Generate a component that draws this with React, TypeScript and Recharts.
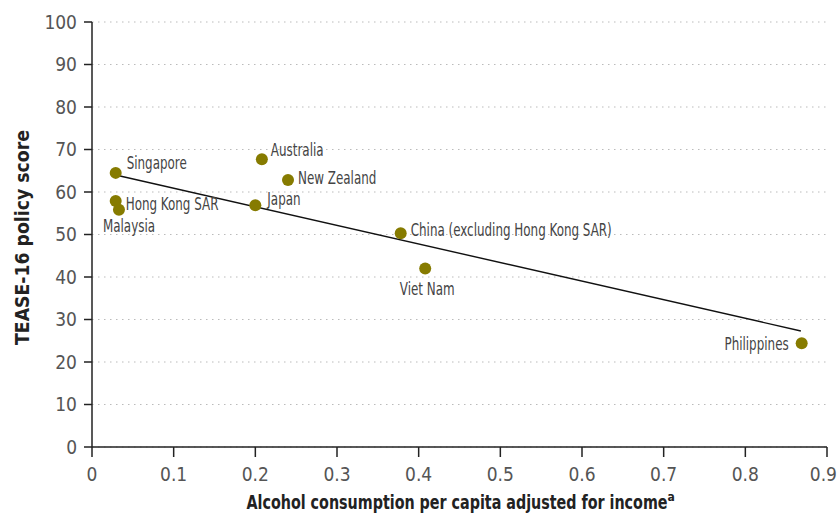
import { ScatterChart, Scatter, XAxis, YAxis, CartesianGrid } from 'recharts';

const countries = [
  'Singapore',
  'Hong Kong SAR',
  'Malaysia',
  'Japan',
  'Australia',
  'New Zealand',
  'China (excluding Hong Kong SAR)',
  'Viet Nam',
  'Philippines',
];
const consumption = [0.029, 0.029, 0.033, 0.2, 0.208, 0.24, 0.378, 0.408, 0.869];
const policyScore = [64.5, 57.9, 55.8, 56.9, 67.7, 62.8, 50.3, 42.0, 24.4];

const trendX = [0.029, 0.868];
const trendY = [64.0, 27.3];

const xTicks = [0, 0.1, 0.2, 0.3, 0.4, 0.5, 0.6, 0.7, 0.8, 0.9];
const yTicks = [0, 10, 20, 30, 40, 50, 60, 70, 80, 90, 100];

const points = countries.map((name, i) => ({ name, x: consumption[i], y: policyScore[i] }));
const trend = trendX.map((x, i) => ({ x, y: trendY[i] }));

// where each country's name sits relative to its dot
const labelPos: Record<string, { dx: number; dy: number; anchor: string }> = {
  'Singapore': { dx: 11, dy: -9, anchor: 'start' },
  'Hong Kong SAR': { dx: 10, dy: 3, anchor: 'start' },
  'Malaysia': { dx: -16, dy: 17, anchor: 'start' },
  'Japan': { dx: 12, dy: -6, anchor: 'start' },
  'Australia': { dx: 9, dy: -9, anchor: 'start' },
  'New Zealand': { dx: 10, dy: -2, anchor: 'start' },
  'China (excluding Hong Kong SAR)': { dx: 10, dy: -3, anchor: 'start' },
  'Viet Nam': { dx: 2, dy: 21, anchor: 'middle' },
  'Philippines': { dx: -13, dy: 1, anchor: 'end' },
};

const FONT = "'DejaVu Sans Condensed', 'DejaVu Sans', sans-serif";
const DOT = '#867b00';
// the original uses a condensed face, squeeze the text a bit to match
const SQUEEZE = 0.78;

const Dot = (props: any) => {
  const { cx, cy, payload } = props;
  const p = labelPos[payload.name];
  return (
    <g>
      <circle cx={cx} cy={cy} r={6} fill={DOT} />
      <text
        transform={`translate(${cx + p.dx}, ${cy + p.dy}) scale(${SQUEEZE}, 1)`}
        textAnchor={p.anchor as any}
        dominantBaseline="central"
        fontFamily={FONT}
        fontSize={17}
        fill="#444"
      >
        {payload.name}
      </text>
    </g>
  );
};

const XTick = (props: any) => {
  const { x, y, payload } = props;
  const last = payload.value === xTicks[xTicks.length - 1];
  return (
    <text
      x={last ? x + 10 : x}
      y={y}
      dy="0.71em"
      textAnchor={last ? 'end' : 'middle'}
      fontFamily={FONT}
      fontSize={19}
      fill="#555"
    >
      {String(payload.value)}
    </text>
  );
};

const XTitle = (props: any) => {
  const { viewBox } = props;
  const start = viewBox.x + viewBox.width / 2 - 213;
  const y = viewBox.y + 62;
  return (
    <g fontFamily={FONT} fontWeight="bold" fill="#222">
      <text x={start} y={y} fontSize={20} textLength={421} lengthAdjust="spacingAndGlyphs">
        Alcohol consumption per capita adjusted for income
      </text>
      <text x={start + 421} y={y - 8} fontSize={12}>
        a
      </text>
    </g>
  );
};

const YTitle = (props: any) => {
  const { viewBox } = props;
  const cy = viewBox.y + viewBox.height / 2 + 3;
  return (
    <text
      x={22}
      y={cy}
      transform={`rotate(-90, 22, ${cy})`}
      textAnchor="middle"
      dominantBaseline="central"
      fontFamily={FONT}
      fontWeight="bold"
      fontSize={20}
      fill="#222"
      textLength={215}
      lengthAdjust="spacingAndGlyphs"
    >
      TEASE-16 policy score
    </text>
  );
};

export default function App() {
  return (
    <div style={{ position: 'absolute', left: 0, top: 0, width: 838, height: 514, background: '#fff' }}>
      <ScatterChart width={838} height={514} margin={{ top: 22, right: 11, left: 0, bottom: 7 }}>
        <CartesianGrid vertical={false} stroke="#bbb" strokeDasharray="1.5 4.5" />
        <XAxis
          type="number"
          dataKey="x"
          domain={[0, 0.9]}
          ticks={xTicks}
          interval={0}
          height={60}
          axisLine={{ stroke: '#222', strokeWidth: 1.5 }}
          tickLine={{ stroke: '#222', strokeWidth: 1.5 }}
          tickSize={10}
          tickMargin={11}
          tick={XTick}
          label={{ content: XTitle }}
        />
        <YAxis
          type="number"
          dataKey="y"
          domain={[0, 100]}
          ticks={yTicks}
          interval={0}
          width={92}
          axisLine={{ stroke: '#222', strokeWidth: 1.5 }}
          tickLine={{ stroke: '#222', strokeWidth: 1.5 }}
          tickSize={8}
          tickMargin={7}
          tick={{ fill: '#555', fontSize: 19, fontFamily: FONT }}
          label={{ content: YTitle }}
        />
        <Scatter
          data={trend}
          line={{ stroke: '#111', strokeWidth: 1.4 }}
          shape={() => <g />}
          isAnimationActive={false}
        />
        <Scatter data={points} shape={Dot} isAnimationActive={false} />
      </ScatterChart>
    </div>
  );
}
